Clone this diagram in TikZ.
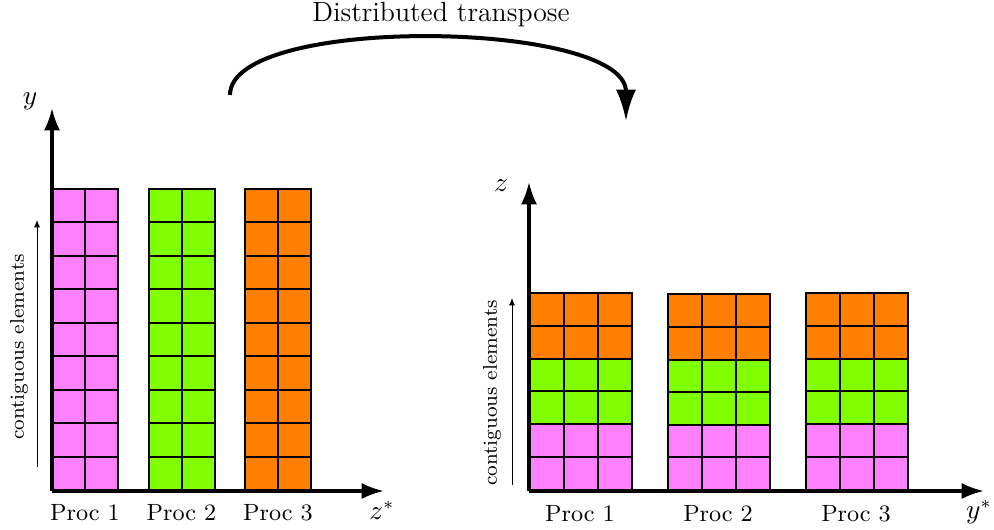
\documentclass[tikz,border=0pt]{standalone}
\usetikzlibrary{arrows.meta}
\definecolor{procA}{HTML}{FF80FF}
\definecolor{procB}{HTML}{80FF00}
\definecolor{procC}{HTML}{FF8000}
\begin{document}
\begin{tikzpicture}[x=0.4pt,y=-0.4pt,
  axis/.style={line width=1.3pt,-{Latex[length=9pt,width=6.5pt]}},
  cell/.style={draw=black,line width=0.8pt},
  gridline/.style={black,line width=0.8pt},
  contig/.style={line width=0.4pt,-{Latex[length=3pt,width=2.5pt]}},
  contiglabel/.style={rotate=90,font=\fontsize{8}{9}\selectfont},
  proclabel/.style={font=\fontsize{9.4}{11}\selectfont},
  axislabel/.style={font=\fontsize{10.5}{12}\selectfont},
  transfer/.style={line width=1.6pt,-{Latex[length=12.5pt,width=8pt]}}]
\useasboundingbox (0,0) rectangle (994,530);

% ---- left layout: z-pencils, 2 columns x 9 rows per process ----
\foreach \xo/\col [count=\i] in {52/procA,148.5/procB,245/procC}{
  \fill[\col] (\xo,189) rectangle ++(66,301);
  \foreach \k in {1,...,8}
    \draw[gridline] (\xo,{189+\k*301/9}) -- ++(66,0);
  \draw[gridline] (\xo+33,189) -- ++(0,301);
  \draw[cell] (\xo,189) rectangle ++(66,301);
  \node[proclabel] (lp\i) at (\xo+33,513) {Proc \i};
}

% left axes
\coordinate (lo) at (52,491);
\coordinate (ly) at (52,108);
\coordinate (lx) at (384,491);
\draw[axis] (lo) -- (ly);
\draw[axis] (lo) -- (lx);
\node[axislabel] (lylab) at (30,101) {$y$};
\node[axislabel] (lxlab) at (382,510) {$z^*$};

% left contiguity arrow
\coordinate (lc0) at (37,467);
\coordinate (lc1) at (37,220);
\draw[contig] (lc0) -- (lc1);
\node[contiglabel] (lctext) at (19,347) {contiguous elements};

% ---- right layout: y-pencils, 3 columns x 6 rows per process ----
\foreach \xo/\top [count=\i] in {530/293,668/294.5,806/293}{
  \pgfmathsetmacro{\h}{490-\top}
  \fill[procA] (\xo,490-\h/3) rectangle (\xo+102,490);
  \fill[procB] (\xo,490-2*\h/3) rectangle (\xo+102,490-\h/3);
  \fill[procC] (\xo,\top) rectangle (\xo+102,490-2*\h/3);
  \foreach \k in {1,...,5}
    \draw[gridline] (\xo,{\top+\k*\h/6}) -- ++(102,0);
  \draw[gridline] (\xo+34,\top) -- (\xo+34,490);
  \draw[gridline] (\xo+68,\top) -- (\xo+68,490);
  \draw[cell] (\xo,\top) rectangle (\xo+102,490);
  \node[proclabel] (rp\i) at (\xo+50,514) {Proc \i};
}

% right axes
\coordinate (ro) at (529,491);
\coordinate (rz) at (529,182);
\coordinate (rx) at (984,491);
\draw[axis] (ro) -- (rz);
\draw[axis] (ro) -- (rx);
\node[axislabel] (rzlab) at (501,186) {$z$};
\node[axislabel] (rxlab) at (979,512) {$y^*$};

% right contiguity arrow
\coordinate (rc0) at (512,485);
\coordinate (rc1) at (512,298);
\draw[contig] (rc0) -- (rc1);
\node[contiglabel] (rctext) at (492,393) {contiguous elements};

% ---- transpose arrow ----
\coordinate (ts) at (230,95);
\coordinate (te) at (626,121);
\draw[transfer] (ts) .. controls (230,14) and (626,20) .. (te);
\node[font=\fontsize{11.1}{13}\selectfont] (title) at (441,15) {Distributed transpose};
\end{tikzpicture}
\end{document}
